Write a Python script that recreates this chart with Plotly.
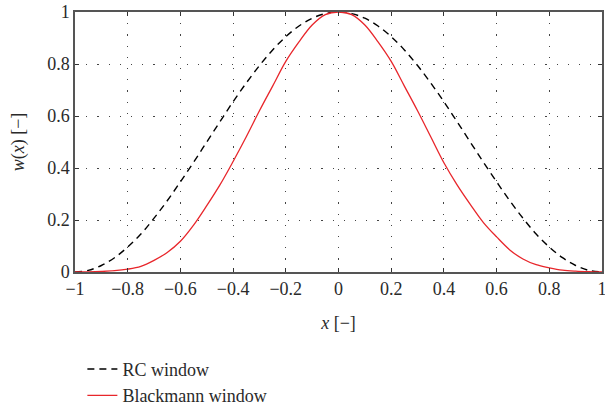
import plotly.graph_objects as go

x_vals = [-1.0, -0.95, -0.9, -0.85, -0.8, -0.75, -0.7, -0.65, -0.6, -0.55, -0.5,
          -0.45, -0.4, -0.35, -0.3, -0.25, -0.2, -0.15, -0.1, -0.05, 0.0,
          0.05, 0.1, 0.15, 0.2, 0.25, 0.3, 0.35, 0.4, 0.45, 0.5,
          0.55, 0.6, 0.65, 0.7, 0.75, 0.8, 0.85, 0.9, 0.95, 1.0]

rc_window = [0.0, 0.006, 0.025, 0.055, 0.096, 0.146, 0.207, 0.274, 0.347, 0.422, 0.50,
             0.578, 0.655, 0.727, 0.794, 0.854, 0.905, 0.946, 0.976, 0.994, 1.0,
             0.994, 0.976, 0.946, 0.905, 0.854, 0.794, 0.727, 0.655, 0.578, 0.50,
             0.422, 0.347, 0.274, 0.207, 0.146, 0.096, 0.055, 0.025, 0.006, 0.0]

blackmann_window = [0.0, 0.0005, 0.002, 0.005, 0.011, 0.022, 0.045, 0.075, 0.118, 0.18, 0.255,
                    0.335, 0.425, 0.52, 0.62, 0.715, 0.81, 0.885, 0.95, 0.99, 1.0,
                    0.99, 0.95, 0.885, 0.81, 0.715, 0.62, 0.52, 0.42, 0.335, 0.26,
                    0.19, 0.135, 0.085, 0.05, 0.028, 0.016, 0.007, 0.003, 0.001, 0.0]

x_ticks = [-1, -0.8, -0.6, -0.4, -0.2, 0, 0.2, 0.4, 0.6, 0.8, 1]
x_tick_labels = ["\u22121", "\u22120.8", "\u22120.6", "\u22120.4", "\u22120.2", "0",
                 "0.2", "0.4", "0.6", "0.8", "1"]
y_ticks = [0, 0.2, 0.4, 0.6, 0.8, 1]
y_tick_labels = ["0", "0.2", "0.4", "0.6", "0.8", "1"]

FONT = "Liberation Serif"
TXT = "#2a2a2a"
FS = 18

fig = go.Figure()
fig.add_trace(go.Scatter(x=x_vals, y=rc_window, mode="lines", name="RC window",
                         line=dict(color="black", width=1.4, dash="7px,5px", shape="spline")))
fig.add_trace(go.Scatter(x=x_vals, y=blackmann_window, mode="lines", name="Blackmann window",
                         line=dict(color="#e8262b", width=1.3, shape="spline")))

axis_common = dict(
    showline=True, linecolor="#555555", linewidth=1.5, mirror="ticks",
    ticks="inside", ticklen=4, tickcolor="#333333", tickwidth=1,
    showgrid=True, gridcolor="#444444", gridwidth=1.2, griddash="1.2px,10px",
    zeroline=False, tickfont=dict(family=FONT, size=FS, color=TXT),
    ticklabeloverflow="allow",
)

fig.update_xaxes(range=[-1, 1], tickvals=x_ticks, ticktext=x_tick_labels,
                 title=dict(text="<i>x</i> [\u2212]", font=dict(family=FONT, size=FS, color=TXT), standoff=18),
                 **axis_common)
fig.update_yaxes(range=[0, 1], tickvals=y_ticks, ticktext=y_tick_labels,
                 title=dict(text="<i>w</i>(<i>x</i>) [\u2212]", font=dict(family=FONT, size=FS, color=TXT), standoff=18),
                 **axis_common)

fig.update_layout(
    width=605, height=410,
    margin=dict(l=75, r=3, t=12, b=138, autoexpand=False),
    paper_bgcolor="white", plot_bgcolor="white",
    font=dict(family=FONT, size=FS, color=TXT),
    showlegend=True,
    legend=dict(x=0.014, y=-0.303, xanchor="left", yanchor="top",
                bgcolor="rgba(0,0,0,0)", font=dict(family=FONT, size=FS, color=TXT),
                tracegroupgap=0),
)

fig.write_html("out.html")
